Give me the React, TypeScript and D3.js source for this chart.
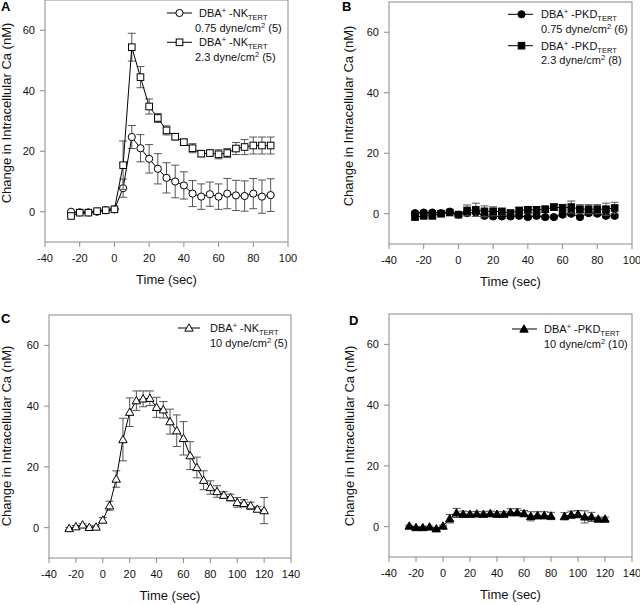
import React from "react";
import * as d3 from "d3";

// ---- data ----
const timeAB = [-25, -20, -15, -10, -5, 0, 5, 10, 15, 20, 25, 30, 35, 40, 45, 50, 55, 60, 65, 70, 75, 80, 85, 90];
const timeCD = [-25, -20, -15, -10, -5, 0, 5, 10, 15, 20, 25, 30, 35, 40, 45, 50, 55, 60, 65, 70, 75, 80, 85, 90, 95, 100, 105, 110, 115, 120];

const nk075 = [0, -0.2, -0.2, 0, 0.5, 0.8, 7.8, 24.7, 21, 17.5, 14.2, 11.2, 10, 8.7, 6, 5, 5.8, 5, 6, 5.4, 5.2, 6, 5, 5.5];
const nk075Err = [0.3, 0.3, 0.3, 0.3, 0.3, 0.3, 3, 3.8, 4.5, 4.7, 5, 5, 5.4, 4.5, 4.3, 4.2, 4, 4.2, 5, 5, 5, 5, 5.5, 5.4];
const nk23 = [-1.4, -0.3, -0.3, 0.2, 0.5, 0.8, 15.4, 54.4, 44.5, 34.8, 31, 26.9, 24.8, 23, 21, 19.2, 19.4, 19, 19.4, 20.9, 21.4, 21.9, 21.9, 21.9];
const nk23Err = [0.3, 0.3, 0.3, 0.3, 0.3, 0.3, 8, 4.6, 3.5, 2.5, 1.5, 1.5, 1, 1, 1.5, 1, 1, 1.5, 1.5, 2, 2.5, 2.8, 2.8, 2.8];

const pkd075 = [0.2, 0.4, 0.4, 0.2, 0.7, -0.3, 0.2, 0.4, -0.7, -0.9, -0.9, -0.9, -0.7, -1.1, -0.7, -1.1, -1.1, -0.3, 0, -1.1, 0.2, 0, -0.7, -0.7];
const pkd075Err = [0.6, 0.6, 0.6, 0.6, 0.6, 0.6, 0.6, 0.6, 0.6, 0.6, 0.6, 0.6, 0.6, 0.6, 0.6, 0.6, 0.6, 0.6, 0.6, 0.6, 0.6, 0.6, 0.6, 0.6];
const pkd23 = [-1.1, -0.7, -0.7, 0, 0.4, -0.3, 1.1, 1.3, 0.8, 0.8, 0.7, 0.2, 1.1, 1.3, 1.3, 1.5, 2.2, 1.9, 2.2, 1.5, 1.5, 1.5, 1.5, 1.9];
const pkd23Err = [0.5, 0.5, 0.5, 0.5, 0.5, 0.5, 1.8, 2.2, 1.8, 1.5, 1.2, 1, 1, 1, 1, 1, 1, 1.2, 2, 1.5, 1.5, 1.5, 2, 1.9];

const nk10 = [-0.3, 0.3, 0.9, 0.1, 0.2, 2.5, 7.2, 16, 29, 38, 41.8, 42.4, 42.6, 39.6, 38.8, 34.9, 31.9, 29.4, 23.7, 19.8, 15.6, 13.2, 11.9, 10.7, 9.9, 8.3, 8, 7.2, 6.1, 5.6];
const nk10Err = [0.4, 0.4, 0.4, 0.4, 0.4, 0.8, 1.5, 2.7, 7, 4.7, 3.2, 2.6, 2.4, 3.3, 2.7, 4.1, 5.2, 5.5, 4.6, 3.4, 3.1, 2.2, 1.9, 1.1, 1.1, 1.6, 1.2, 1.2, 0.8, 4.3];

const pkd10 = [0.2, -0.3, -0.3, -0.1, -0.7, 0.2, 2.6, 4.5, 4.1, 4.1, 4.2, 4.1, 4.3, 4.1, 4.1, 4.7, 4.7, 4.3, 3.4, 3.7, 3.7, 3.5, null, 3.4, 3.9, 4.1, 3.2, 3.2, 2.5, 2.5];
const pkd10Err = [0.3, 0.3, 0.3, 0.3, 0.3, 0.3, 1.4, 1.5, 1, 0.8, 0.8, 0.8, 0.8, 0.8, 0.8, 1.2, 1.2, 1, 1.5, 1.2, 1.2, 1.2, null, 1.2, 1.2, 1.2, 2, 1.5, 0.6, 0.6];

const xTicksAB = [-40, -20, 0, 20, 40, 60, 80, 100];
const xTicksCD = [-40, -20, 0, 20, 40, 60, 80, 100, 120, 140];
const yTicks = [0, 20, 40, 60];

const yLabel = "Change in Intracellular Ca (nM)";
const xLabel = "Time (sec)";

const FONT = "Arial, 'Liberation Sans', Helvetica, sans-serif";
const AXIS = "#8a8a8a";
const ERR = "#555";
const TXT = "#111";

type Marker = "circle" | "square" | "triangle";

interface Series {
  x: number[];
  y: (number | null)[];
  err: (number | null)[];
  marker: Marker;
  filled: boolean;
  cell: string;
  cond: string;
}

function MarkerShape({ type, filled, cx, cy }: { type: Marker; filled: boolean; cx: number; cy: number }) {
  const fill = filled ? "#000" : "#fff";
  if (type === "circle") return <circle cx={cx} cy={cy} r={3.6} fill={fill} stroke="#000" strokeWidth={1} />;
  if (type === "square") return <rect x={cx - 3.3} y={cy - 3.3} width={6.6} height={6.6} fill={fill} stroke="#000" strokeWidth={1} />;
  const s = 4.2;
  return (
    <path
      d={`M${cx},${cy - s}L${cx + s},${cy + s * 0.75}L${cx - s},${cy + s * 0.75}Z`}
      fill={fill}
      stroke="#000"
      strokeWidth={1}
    />
  );
}

function CellName({ x, y, cell }: { x: number; y: number; cell: string }) {
  return (
    <text x={x} y={y} fontFamily={FONT} fontSize={11} fill={TXT}>
      DBA
      <tspan fontSize={7.5} dy={-4}>+</tspan>
      <tspan dy={4}>{" -" + cell}</tspan>
      <tspan fontSize={7.5} dy={3}>TERT</tspan>
    </text>
  );
}

function Cond({ x, y, cond }: { x: number; y: number; cond: string }) {
  const parts = cond.split("|");
  return (
    <text x={x} y={y} fontFamily={FONT} fontSize={11} fill={TXT}>
      {parts[0]}
      <tspan fontSize={7.5} dy={-4}>2</tspan>
      <tspan dy={4}>{parts[1]}</tspan>
    </text>
  );
}

interface PanelProps {
  letter: string;
  left: number;
  right: number;
  top: number;
  bottom: number;
  xDomain: [number, number];
  xTicks: number[];
  series: Series[];
  yLabelX: number;
  yLabelY: number;
  letterX: number;
  letterY: number;
  legend: { lx0: number; lx1: number; sx: number; sy: number[]; tx: number; tx2: number };
}

function Panel(p: PanelProps) {
  const x = d3.scaleLinear().domain(p.xDomain).range([p.left, p.right]);
  const y = d3.scaleLinear().domain([-10, 70]).range([p.bottom, p.top]);
  const cx = (p.left + p.right) / 2;
  return (
    <g>
      <text x={p.letterX} y={p.letterY} fontFamily={FONT} fontSize={13} fontWeight="bold" fill="#000">
        {p.letter}
      </text>
      <rect x={p.left} y={p.top} width={p.right - p.left} height={p.bottom - p.top} fill="none" stroke={AXIS} strokeWidth={1} />
      {p.xTicks.map((t) => (
        <g key={"x" + t}>
          <line x1={x(t)} x2={x(t)} y1={p.bottom} y2={p.bottom + 5} stroke={AXIS} />
          <text x={x(t)} y={p.bottom + 20} textAnchor="middle" fontFamily={FONT} fontSize={11} fill={TXT}>
            {t}
          </text>
        </g>
      ))}
      {yTicks.map((t) => (
        <g key={"y" + t}>
          <line x1={p.left - 5} x2={p.left} y1={y(t)} y2={y(t)} stroke={AXIS} />
          <text x={p.left - 10} y={y(t) + 4} textAnchor="end" fontFamily={FONT} fontSize={11} fill={TXT}>
            {t}
          </text>
        </g>
      ))}
      <text x={cx} y={p.bottom + 42} textAnchor="middle" fontFamily={FONT} fontSize={13} fill={TXT}>
        {xLabel}
      </text>
      <text
        transform={`translate(${p.yLabelX},${p.yLabelY}) rotate(-90)`}
        textAnchor="middle"
        fontFamily={FONT}
        fontSize={13}
        fill={TXT}
      >
        {yLabel}
      </text>
      {p.series.map((s, si) => {
        const pts = s.x.map((xv, i) => ({ x: xv, y: s.y[i], e: s.err[i] }));
        const line = d3
          .line<{ x: number; y: number | null }>()
          .defined((d) => d.y !== null)
          .x((d) => x(d.x))
          .y((d) => y(d.y as number));
        return (
          <g key={si}>
            {pts
              .filter((d) => d.y !== null && d.e !== null)
              .map((d, i) => {
                const yy = d.y as number;
                const e = d.e as number;
                const X = x(d.x);
                return (
                  <g key={i} stroke={ERR} strokeWidth={1}>
                    <line x1={X} x2={X} y1={y(yy - e)} y2={y(yy + e)} />
                    <line x1={X - 4} x2={X + 4} y1={y(yy + e)} y2={y(yy + e)} />
                    <line x1={X - 4} x2={X + 4} y1={y(yy - e)} y2={y(yy - e)} />
                  </g>
                );
              })}
            <path d={line(pts) || ""} fill="none" stroke="#000" strokeWidth={1} />
            {pts
              .filter((d) => d.y !== null)
              .map((d, i) => (
                <MarkerShape key={i} type={s.marker} filled={s.filled} cx={x(d.x)} cy={y(d.y as number)} />
              ))}
          </g>
        );
      })}
      {p.series.map((s, si) => {
        const sy = p.legend.sy[si];
        return (
          <g key={"lg" + si}>
            <line x1={p.legend.lx0} x2={p.legend.lx1} y1={sy} y2={sy} stroke="#000" />
            <MarkerShape type={s.marker} filled={s.filled} cx={p.legend.sx} cy={sy} />
            <CellName x={p.legend.tx} y={sy + 4} cell={s.cell} />
            <Cond x={p.legend.tx2} y={sy + 18.5} cond={s.cond} />
          </g>
        );
      })}
    </g>
  );
}

export default function App() {
  return (
    <svg width={640} height={605} style={{ position: "absolute", left: 0, top: 0, background: "#fff" }}>
      <rect width={640} height={605} fill="#fff" />
      <Panel
        letter="A"
        left={45}
        right={288}
        top={0}
        bottom={242}
        xDomain={[-40, 100]}
        xTicks={xTicksAB}
        yLabelX={11}
        yLabelY={113}
        letterX={1}
        letterY={11}
        legend={{ lx0: 167, lx1: 192, sx: 179.5, sy: [13, 42.3], tx: 199, tx2: 195 }}
        series={[
          { x: timeAB, y: nk075, err: nk075Err, marker: "circle", filled: false, cell: "NK", cond: "0.75 dyne/cm| (5)" },
          { x: timeAB, y: nk23, err: nk23Err, marker: "square", filled: false, cell: "NK", cond: "2.3 dyne/cm| (5)" },
        ]}
      />
      <Panel
        letter="B"
        left={389}
        right={632}
        top={2}
        bottom={244}
        xDomain={[-40, 100]}
        xTicks={xTicksAB}
        yLabelX={353}
        yLabelY={116}
        letterX={342}
        letterY={11}
        legend={{ lx0: 508, lx1: 533, sx: 521.5, sy: [14.3, 45.7], tx: 541, tx2: 541 }}
        series={[
          { x: timeAB, y: pkd075, err: pkd075Err, marker: "circle", filled: true, cell: "PKD", cond: "0.75 dyne/cm| (6)" },
          { x: timeAB, y: pkd23, err: pkd23Err, marker: "square", filled: true, cell: "PKD", cond: "2.3 dyne/cm| (8)" },
        ]}
      />
      <Panel
        letter="C"
        left={49}
        right={291}
        top={315}
        bottom={558}
        xDomain={[-40, 140]}
        xTicks={xTicksCD}
        yLabelX={11}
        yLabelY={436}
        letterX={1}
        letterY={323}
        legend={{ lx0: 178, lx1: 200, sx: 189, sy: [328], tx: 210, tx2: 210 }}
        series={[
          { x: timeCD, y: nk10, err: nk10Err, marker: "triangle", filled: false, cell: "NK", cond: "10 dyne/cm| (5)" },
        ]}
      />
      <Panel
        letter="D"
        left={389}
        right={632}
        top={314}
        bottom={557}
        xDomain={[-40, 140]}
        xTicks={xTicksCD}
        yLabelX={354}
        yLabelY={436}
        letterX={349}
        letterY={325}
        legend={{ lx0: 512, lx1: 537, sx: 524, sy: [329], tx: 544, tx2: 544 }}
        series={[
          { x: timeCD, y: pkd10, err: pkd10Err, marker: "triangle", filled: true, cell: "PKD", cond: "10 dyne/cm| (10)" },
        ]}
      />
    </svg>
  );
}
